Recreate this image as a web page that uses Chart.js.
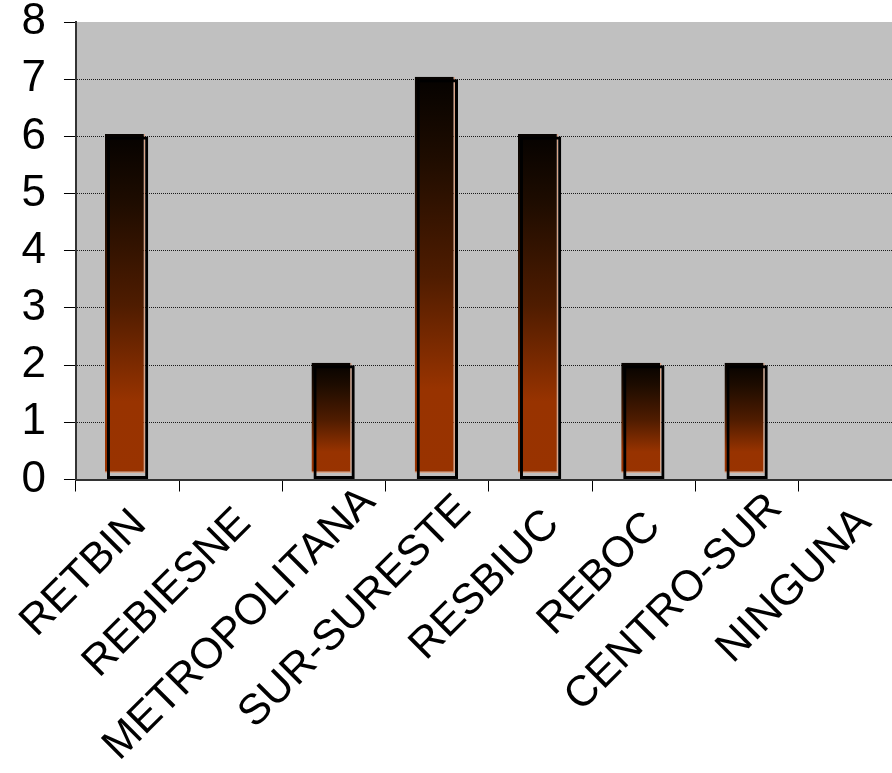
<!DOCTYPE html>
<html>
<head>
<meta charset="utf-8">
<script src="https://cdn.jsdelivr.net/npm/chart.js@4/dist/chart.umd.min.js"></script>
<style>
  html, body { margin: 0; padding: 0; background: #fff; overflow: hidden; }
  #wrap { position: absolute; left: 0; top: 0; width: 910px; height: 773px; }
</style>
</head>
<body>
<div id="wrap"><canvas id="c"></canvas></div>
<script>
const categories = ["RETBIN", "REBIESNE", "METROPOLITANA", "SUR-SURESTE", "RESBIUC", "REBOC", "CENTRO-SUR", "NINGUNA"];
const values = [6, 0, 2, 7, 6, 2, 2, 0];
const yTicks = [0, 1, 2, 3, 4, 5, 6, 7, 8];

const FONT = "'Liberation Sans', Arial, sans-serif";
const CLEAR = 'rgba(0,0,0,0)';

function barGradient(context) {
  const chart = context.chart;
  const { ctx, chartArea, scales } = chart;
  if (context.type !== 'data') return '#993300';
  const v = context.raw;
  if (!v) return CLEAR;
  if (!chartArea) return '#993300';
  const top = scales.y.getPixelForValue(v);
  const bottom = scales.y.getPixelForValue(0);
  if (!(bottom > top)) return '#993300';
  const g = ctx.createLinearGradient(0, top, 0, bottom);
  g.addColorStop(0, '#050200');
  g.addColorStop(0.2, '#1e0c00');
  g.addColorStop(0.5, '#4f1c00');
  g.addColorStop(0.78, '#983300');
  g.addColorStop(1, '#993300');
  return g;
}

const bgPlugin = {
  id: 'plotBg',
  beforeDraw(chart) {
    const { ctx, chartArea: a } = chart;
    ctx.save();
    ctx.fillStyle = '#c0c0c0';
    ctx.fillRect(a.left, a.top, a.right - a.left, a.bottom - a.top);
    ctx.restore();
  }
};

const shiftPlugin = {
  id: 'shiftFill',
  beforeDatasetDraw(chart, args) {
    if (args.index === 0) {
      chart.ctx.save();
      chart.ctx.translate(-2.5, -2.5);
    }
  },
  afterDatasetDraw(chart, args) {
    if (args.index === 0) chart.ctx.restore();
  }
};

// Slides long rotated category labels along their own direction (Excel-like placement)
const labelSlidePlugin = {
  id: 'labelSlide',
  beforeDraw(chart, args, opts) {
    const scale = chart.scales.x;
    const items = scale.getLabelItems(chart.chartArea);
    const slide = opts.slide || [];
    items.forEach((it, i) => {
      const t = slide[i] || 0;
      if (!t || it._slid) return;
      const tr = it.options.translation;
      it.options.translation = [tr[0] + t * Math.SQRT1_2, tr[1] - t * Math.SQRT1_2];
      it._slid = true;
    });
  }
};

new Chart(document.getElementById('c'), {
  type: 'bar',
  data: {
    labels: categories,
    datasets: [
      {
        data: values,
        backgroundColor: barGradient,
        borderColor: (c) => (c.raw ? '#d9a488' : CLEAR),
        borderWidth: { top: 0, left: 0, right: 1.5, bottom: 1.5 },
        borderSkipped: false,
        base: 0.07,
        grouped: false,
        barPercentage: 0.39,
        categoryPercentage: 1,
        order: 2,
        clip: false
      },
      {
        data: values,
        backgroundColor: CLEAR,
        borderColor: (c) => (c.raw ? '#000000' : CLEAR),
        borderWidth: 3,
        borderSkipped: false,
        grouped: false,
        barPercentage: 0.40,
        categoryPercentage: 1,
        order: 1
      }
    ]
  },
  options: {
    responsive: true,
    maintainAspectRatio: false,
    animation: false,
    layout: { padding: { left: 3.5, top: 22, right: 8, bottom: 0 } },
    plugins: {
      legend: { display: false },
      tooltip: { enabled: false },
      labelSlide: { slide: [0, 2, 32, 21, 0, -3, 23, 3] }
    },
    scales: {
      x: {
        offset: true,
        afterFit(scale) {
          scale.paddingLeft = 0;
          scale.paddingRight = 0;
          scale.height = 293.5;
        },
        grid: {
          display: true,
          offset: true,
          drawOnChartArea: false,
          drawTicks: true,
          tickLength: 12,
          tickColor: '#000',
          tickWidth: 1
        },
        border: { display: true, color: '#333', width: 2 },
        ticks: {
          color: '#000',
          font: { family: FONT, size: 43 },
          minRotation: 45,
          maxRotation: 45,
          autoSkip: false,
          padding: 8,
          labelOffset: 12
        }
      },
      y: {
        min: 0,
        max: 8,
        afterBuildTicks(scale) { scale.ticks = yTicks.map(v => ({ value: v })); },
        afterFit(scale) {
          scale.paddingTop = 0;
          scale.paddingBottom = 0;
        },
        grid: {
          color: (c) => (c.tick && (c.tick.value === 8 || c.tick.value === 0)) ? CLEAR : '#1a1a1a',
          lineWidth: 1,
          drawTicks: true,
          tickLength: 12,
          tickColor: '#000',
          tickWidth: 1,
          tickBorderDash: []
        },
        border: { display: true, color: '#333', width: 2, dash: [1, 1] },
        ticks: {
          color: '#000',
          font: { family: FONT, size: 44 },
          padding: 18
        }
      }
    }
  },
  plugins: [bgPlugin, shiftPlugin, labelSlidePlugin]
});
</script>
</body>
</html>
